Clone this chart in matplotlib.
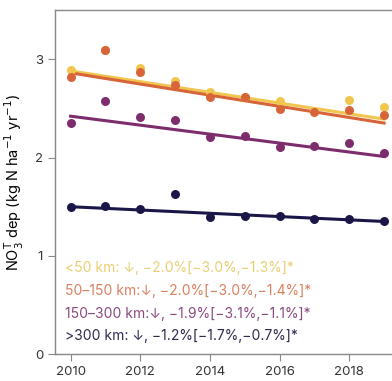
import matplotlib.pyplot as plt

plt.rcParams['font.family'] = ['Inter', 'DejaVu Sans']

# ── data ────────────────────────────────────────────
years = [2010, 2011, 2012, 2013, 2014, 2015, 2016, 2017, 2018, 2019]

lt50    = [2.89, 3.09, 2.91, 2.78, 2.67, 2.62, 2.57, 2.47, 2.58, 2.51]
d50_150 = [2.82, 3.09, 2.87, 2.74, 2.61, 2.61, 2.49, 2.46, 2.48, 2.43]
d150_300 = [2.35, 2.57, 2.41, 2.38, 2.21, 2.22, 2.11, 2.12, 2.15, 2.05]
gt300   = [1.50, 1.51, 1.48, 1.63, 1.40, 1.41, 1.41, 1.38, 1.38, 1.35]

# trend line endpoints (2010, 2019)
trend_years = [2010, 2019]
trend_lt50     = [2.88, 2.39]
trend_50_150   = [2.86, 2.35]
trend_150_300  = [2.42, 2.01]
trend_gt300    = [1.50, 1.35]

labels = ["<50 km: \u2193, \u22122.0%[\u22123.0%,\u22121.3%]*",
          "50\u2013150 km:\u2193, \u22122.0%[\u22123.0%,\u22121.4%]*",
          "150\u2013300 km:\u2193, \u22121.9%[\u22123.1%,\u22121.1%]*",
          ">300 km: \u2193, \u22121.2%[\u22121.7%,\u22120.7%]*"]

colors = ["#f0c64e", "#d8643a", "#7d2c6c", "#1b1648"]
text_colors = ["#e8cf72", "#d88060", "#8a4a7e", "#2c2a4c"]

series = [lt50, d50_150, d150_300, gt300]
trends = [trend_lt50, trend_50_150, trend_150_300, trend_gt300]

# ── plot ────────────────────────────────────────────
fig = plt.figure(figsize=(3.92, 3.81), dpi=100)
ax = fig.add_axes([0.14, 0.07, 0.88, 0.904])

for vals, tr, c in zip(series, trends, colors):
    ax.scatter(years, vals, s=42, color=c, zorder=3, linewidths=0)
    ax.plot(trend_years, tr, color=c, lw=2.2, zorder=2)

for i, (lab, c) in enumerate(zip(labels, text_colors)):
    ax.text(0.03, 0.25 - i * 0.066, lab, transform=ax.transAxes,
            color=c, fontsize=10, va="center")

ax.set_xlim(2009.55, 2019.45)
ax.set_ylim(0, 3.5)
ax.set_xticks([2010, 2012, 2014, 2016, 2018])
ax.set_yticks([0, 1, 2, 3])
ax.set_ylabel(r"NO$_3^{\mathrm{T}}$ dep (kg N ha$^{-1}$ yr$^{-1}$)", fontsize=10.5, labelpad=6)

for s in ["left", "bottom", "top"]:
    ax.spines[s].set_color("#888888")
    ax.spines[s].set_linewidth(1.0)
ax.spines["right"].set_visible(False)
ax.tick_params(colors="#333333", labelsize=9.5, length=5, color="#888888")

plt.savefig("out.png", dpi=100)
